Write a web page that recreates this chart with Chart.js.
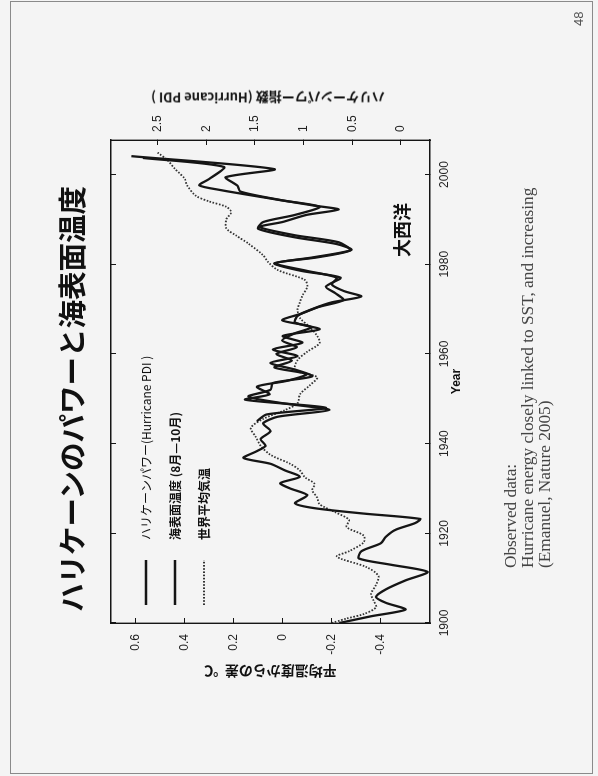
<!DOCTYPE html>
<html>
<head>
<meta charset="utf-8">
<script src="https://cdn.jsdelivr.net/npm/chart.js@4.4.1/dist/chart.umd.min.js"></script>
<style>
html, body { margin: 0; padding: 0; background: #f4f4f4; }
body { width: 598px; height: 776px; position: relative; overflow: hidden; }
#frame { position: absolute; left: 10px; top: 1px; width: 581px; height: 771px; border: 1px solid #8a8a8a; }
/* the slide is landscape and turned a quarter turn to the left */
#land { position: absolute; left: 0; top: 0; width: 776px; height: 598px;
        transform-origin: 0 0; transform: translate(0, 776px) rotate(-90deg); }
#land canvas { position: absolute; left: 0; top: 0; }
.txt { position: absolute; white-space: nowrap; }
#title { left: 164px; top: 57px; font: bold 28.5px 'Noto Sans CJK JP', sans-serif; line-height: 1; color: #111; }
#pdiTitle { left: 678px; top: 268px; transform: translate(-50%, -50%) rotate(-90deg);
            font: bold 13px 'Noto Sans CJK JP', sans-serif; line-height: 1; color: #111; }
#ocean { left: 519px; top: 392px; font: bold 18px 'Noto Sans CJK JP', sans-serif; line-height: 1; color: #111; }
#caption { left: 208px; top: 502px; font: 17.3px 'Liberation Serif', serif; line-height: 17px; color: #444; }
#pageNo { left: 750px; top: 572px; font: 13px 'Liberation Sans', sans-serif; line-height: 1; color: #555; }
</style>
</head>
<body>
<div id="frame"></div>
<div id="land">
  <canvas id="chart" width="776" height="598"></canvas>
  <div class="txt" id="title">ハリケーンのパワーと海表面温度</div>
  <div class="txt" id="pdiTitle">ハリケーンパワー指数 (Hurricane PDI )</div>
  <div class="txt" id="ocean">大西洋</div>
  <div class="txt" id="caption">Observed data:<br>Hurricane energy closely linked to SST, and increasing<br>(Emanuel, Nature 2005)</div>
  <div class="txt" id="pageNo">48</div>
</div>
<script>
// Hurricane power dissipation index (right axis)
var pdiYears = [1945, 1946.5, 1948, 1949.8, 1951, 1952.7, 1954, 1955.5, 1957, 1958.5, 1960, 1961.5, 1963, 1964.5,
  1966, 1967.5, 1969, 1970.5, 1972, 1973.5, 1975, 1977, 1978.5, 1980.2, 1981.5, 1983.1, 1984.9, 1986.5, 1988.3,
  1989.4, 1991, 1992.2, 1993.1, 1994.5, 1996.2, 1997.5, 1999.4, 2001.2, 2004.1];
var pdiValues = [1.48, 1.38, 0.77, 1.60, 1.35, 1.48, 1.17, 0.97, 1.30, 1.12, 1.28, 1.07, 1.22, 1.10,
  0.92, 1.22, 1.02, 0.84, 0.59, 0.67, 0.77, 0.62, 1.02, 1.30, 0.87, 0.52, 0.64, 1.10, 1.45,
  1.22, 0.97, 0.64, 0.90, 1.28, 1.65, 1.68, 1.80, 1.30, 2.77];

// Atlantic sea surface temperature, Aug-Oct (left axis, deg C)
var sstYears = [1900, 1901.5, 1903, 1904.5, 1905.8, 1907.5, 1909.5, 1911.4, 1913, 1914.4, 1916, 1917.8, 1919.2,
  1920.8, 1922.3, 1923.2, 1924.4, 1925.6, 1926.7, 1928.5, 1930, 1931.2, 1932.6, 1934, 1935.5, 1936.8, 1938.2,
  1939.5, 1941, 1942.8, 1944.5, 1946, 1947.5, 1949, 1950.5, 1952, 1953.5, 1955, 1956.5, 1958, 1959.5, 1961,
  1962.5, 1964, 1965.5, 1967, 1968.5, 1970, 1971.5, 1972.8, 1974, 1975.5, 1977, 1978.5, 1980.2, 1981.5, 1983.2,
  1984.5, 1986, 1987.9, 1989.4, 1991, 1992.8, 1994.2, 1995.7, 1996.5, 1997.6, 1999, 2001.7, 2003.7];
var sstValues = [-0.23, -0.36, -0.50, -0.42, -0.38, -0.42, -0.50, -0.59, -0.44, -0.31, -0.32, -0.40, -0.42,
  -0.46, -0.54, -0.56, -0.33, -0.13, -0.05, -0.10, -0.03, 0.01, -0.07, -0.01, 0.05, 0.16, 0.11,
  0.07, 0.09, 0.05, 0.08, 0.02, -0.19, 0.00, 0.14, 0.05, 0.04, -0.12, -0.05, 0.05, -0.06, 0.04,
  -0.08, 0.00, -0.15, -0.05, -0.06, -0.12, -0.20, -0.32, -0.25, -0.20, -0.22, -0.10, 0.03, -0.12, -0.28,
  -0.22, -0.05, 0.10, 0.08, -0.05, -0.15, 0.00, 0.165, 0.25, 0.34, 0.30, 0.24, 0.57];

// global mean temperature (left axis, deg C)
var globYears = [1900, 1901, 1902, 1903.5, 1905, 1906.5, 1908.5, 1910.5, 1912.5, 1914.8, 1916, 1918, 1919.5,
  1921.4, 1923, 1924.8, 1926.5, 1928, 1929.6, 1931, 1932.5, 1934, 1935.5, 1937.5, 1939.5, 1941.5, 1943.5,
  1945.5, 1947.5, 1949, 1951, 1953, 1954.8, 1956.4, 1958.6, 1960.5, 1962.4, 1964, 1966, 1968, 1969.8, 1971.5,
  1973, 1975, 1976.5, 1978.7, 1980.5, 1982, 1984.6, 1986.4, 1988, 1990, 1991.6, 1992.8, 1994, 1995.3, 1997.6,
  1999.1, 2001.3, 2003.2, 2004.9];
var globValues = [-0.20, -0.26, -0.33, -0.38, -0.37, -0.36, -0.38, -0.39, -0.34, -0.22, -0.27, -0.33, -0.33,
  -0.26, -0.27, -0.21, -0.15, -0.14, -0.12, -0.13, -0.09, -0.07, -0.03, 0.05, 0.09, 0.11, 0.13,
  0.08, -0.01, -0.06, -0.07, -0.11, -0.14, -0.05, -0.06, -0.10, -0.15, -0.14, -0.11, -0.07, -0.06, -0.07,
  -0.08, -0.10, -0.09, 0.02, 0.06, 0.08, 0.14, 0.19, 0.23, 0.23, 0.21, 0.23, 0.30, 0.355, 0.39,
  0.40, 0.44, 0.47, 0.51];

var yearTicks = [1900, 1920, 1940, 1960, 1980, 2000];
var tempTicks = [-0.4, -0.2, 0, 0.2, 0.4, 0.6];
var pdiTicks = [0, 0.5, 1, 1.5, 2, 2.5];

function pairs(xs, ys) {
  return xs.map(function (x, i) { return { x: x, y: ys[i] }; });
}

function setTicks(list) {
  return function (scale) { scale.ticks = list.map(function (v) { return { value: v }; }); };
}

Chart.defaults.font.family = "'Liberation Sans', Arial, sans-serif";
Chart.defaults.color = '#222';

var inkColor = '#151515';
var tickFont = { size: 12 };

// legend sits inside the plot, like the original figure
var insideLegend = {
  id: 'insideLegend',
  afterDatasetsDraw: function (chart) {
    var ctx = chart.ctx;
    var area = chart.chartArea;
    chart.data.datasets.forEach(function (ds, i) {
      var y = area.top + 35 + i * 29;
      ctx.save();
      ctx.strokeStyle = ds.borderColor;
      ctx.lineWidth = ds.borderDash ? 2 : 2.4;
      ctx.setLineDash(ds.borderDash || []);
      ctx.beginPath();
      ctx.moveTo(area.left + 18, y);
      ctx.lineTo(area.left + 63, y);
      ctx.stroke();
      ctx.setLineDash([]);
      ctx.fillStyle = '#111';
      ctx.font = (i === 0 ? '' : 'bold ') + "12px 'Noto Sans CJK JP', sans-serif";
      ctx.textBaseline = 'middle';
      ctx.fillText(ds.label, area.left + 83, y);
      ctx.restore();
    });
  }
};

new Chart(document.getElementById('chart'), {
  type: 'line',
  data: {
    datasets: [
      {
        label: 'ハリケーンパワー(Hurricane PDI )',
        data: pairs(pdiYears, pdiValues),
        yAxisID: 'y2',
        borderColor: inkColor,
        borderWidth: 2.3,
        tension: 0.25,
        pointRadius: 0
      },
      {
        label: '海表面温度 (8月—10月)',
        data: pairs(sstYears, sstValues),
        yAxisID: 'y',
        borderColor: inkColor,
        borderWidth: 2.3,
        tension: 0.25,
        pointRadius: 0
      },
      {
        label: '世界平均気温',
        data: pairs(globYears, globValues),
        yAxisID: 'y',
        borderColor: '#333',
        borderWidth: 1.8,
        borderDash: [1.6, 1.6],
        tension: 0.3,
        pointRadius: 0
      }
    ]
  },
  options: {
    responsive: false,
    animation: false,
    devicePixelRatio: 1,
    layout: { padding: 0 },
    plugins: {
      legend: { display: false },
      tooltip: { enabled: false }
    },
    scales: {
      x: {
        type: 'linear',
        position: 'bottom',
        min: 1900,
        max: 2007.7,
        afterBuildTicks: setTicks(yearTicks),
        afterFit: function (s) { s.height = 168; },
        ticks: { font: tickFont, padding: 12, maxRotation: 0, callback: function (v) { return String(v); } },
        grid: { drawOnChartArea: false, tickLength: -5, color: inkColor },
        border: { color: inkColor, width: 1.4 },
        title: { display: true, text: 'Year', font: { size: 12, weight: 'bold' }, color: '#111',
                 padding: { top: 0, bottom: 134 } }
      },
      xTop: {
        type: 'linear',
        position: 'top',
        min: 1900,
        max: 2007.7,
        afterBuildTicks: setTicks(yearTicks),
        afterFit: function (s) { s.height = 111; },
        ticks: { display: false },
        grid: { drawOnChartArea: false, tickLength: -5, color: inkColor },
        border: { color: inkColor, width: 1.4 }
      },
      y: {
        type: 'linear',
        position: 'left',
        min: -0.6,
        max: 0.7,
        afterBuildTicks: setTicks(tempTicks),
        afterFit: function (s) { s.width = 153; },
        ticks: { font: tickFont, padding: 16, callback: function (v) { return String(v); } },
        grid: { drawOnChartArea: false, tickLength: -5, color: inkColor },
        border: { color: inkColor, width: 1.4 },
        title: { display: true, text: '平均温度からの差  ℃', color: '#111',
                 font: { family: "'Noto Sans CJK JP', sans-serif", size: 14, weight: 'bold' },
                 padding: { top: 96, bottom: 0 } }
      },
      y2: {
        type: 'linear',
        position: 'right',
        min: -0.30,
        max: 2.98,
        afterBuildTicks: setTicks(pdiTicks),
        afterFit: function (s) { s.width = 140; },
        ticks: { font: tickFont, padding: 13, callback: function (v) { return String(v); } },
        grid: { drawOnChartArea: false, tickLength: -5, color: inkColor },
        border: { color: inkColor, width: 1.4 }
      }
    }
  },
  plugins: [insideLegend]
});
</script>
</body>
</html>
